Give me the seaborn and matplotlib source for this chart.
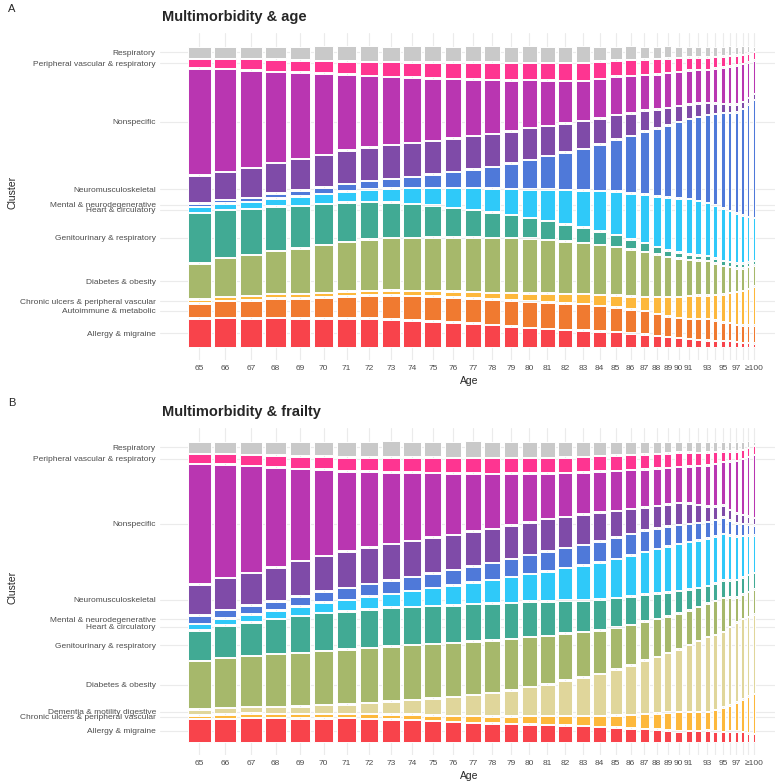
import numpy as np
import seaborn as sns
import matplotlib.pyplot as plt

W, H = 775, 784

ages = [str(a) for a in range(65, 100)] + ["≥100"]
hidden_ticks = ["92", "94", "96", "98", "99"]

# people at each age (thousands) -> column widths
n_age = [22.0, 21.6, 21.0, 20.4, 19.9, 19.2, 18.5, 18.0, 17.4, 16.9,
         16.4, 15.9, 15.5, 15.1, 14.6, 14.1, 14.0, 13.7, 13.2, 12.6,
         11.6, 10.2, 9.0, 7.8, 7.0, 6.4, 6.0, 5.4, 4.7, 4.0,
         3.3, 2.9, 2.5, 2.2, 1.9, 1.7]

# ---- panel A: share of each cluster (%) by age
age_allergy = [9.9, 10.1, 9.9, 10.1, 9.9, 9.9, 9.9, 9.9, 9.7, 9.3, 9.0, 8.6, 8.2, 7.6, 7.2, 6.7, 6.3, 6.0,
               5.8, 5.5, 5.2, 4.7, 4.3, 3.9, 3.5, 3.1, 2.8, 2.5, 2.2, 2.1, 2.0, 2.0, 1.7, 1.4, 1.3, 1.3]
age_autoimmune = [4.8, 5.4, 5.9, 6.3, 6.6, 6.9, 7.3, 7.5, 7.9, 8.0, 8.1, 8.2, 8.3, 8.4, 8.6, 8.7, 8.7, 8.7,
                  8.7, 8.3, 8.0, 7.9, 7.8, 7.2, 6.7, 6.5, 6.4, 6.7, 7.0, 6.6, 6.1, 5.8, 5.5, 5.5, 5.6, 5.7]
age_ulcers = [0.8, 1.0, 1.0, 1.1, 1.0, 1.1, 1.1, 1.2, 1.2, 1.3, 1.4, 1.5, 1.7, 1.8, 2.0, 2.3, 2.6, 2.9,
              3.1, 3.4, 3.7, 4.0, 4.4, 5.3, 6.2, 6.9, 7.6, 7.7, 7.8, 8.5, 9.2, 10.0, 10.9, 11.6, 12.4, 13.2]
age_diabetes = [12.1, 13.0, 13.8, 14.5, 15.4, 16.2, 16.8, 17.4, 17.9, 18.1, 18.3, 18.5, 18.6, 18.8, 18.7, 18.6, 18.2, 17.8,
                17.3, 16.9, 16.5, 15.9, 15.2, 14.4, 13.6, 12.8, 12.0, 11.7, 11.5, 10.5, 9.5, 8.6, 7.8, 7.4, 7.1, 6.9]
age_genito = [17.1, 16.3, 15.6, 15.0, 14.4, 13.9, 13.3, 12.6, 12.0, 11.4, 10.6, 9.8, 9.1, 8.4, 7.5, 6.7, 6.1, 5.5,
              4.9, 4.3, 3.7, 3.1, 2.6, 2.1, 1.7, 1.6, 1.5, 1.3, 1.2, 1.2, 1.2, 1.2, 1.2, 1.2, 1.1, 1.1]
age_heart = [1.6, 1.7, 1.9, 2.3, 2.7, 2.9, 3.3, 3.9, 4.4, 5.0, 5.7, 6.4, 7.1, 7.8, 8.6, 9.5, 10.5, 11.5,
             12.5, 13.6, 14.7, 15.6, 16.4, 17.2, 18.0, 18.5, 18.9, 18.5, 18.1, 18.0, 17.9, 17.4, 17.0, 16.2, 15.4, 14.5]
age_mental = [0.7, 0.7, 0.8, 1.2, 1.6, 1.8, 2.2, 2.5, 2.8, 3.4, 4.1, 5.0, 6.0, 7.1, 8.4, 9.8, 11.2, 12.6,
              14.1, 15.9, 17.7, 19.6, 21.5, 23.2, 24.8, 26.2, 27.5, 28.9, 30.2, 31.5, 32.8, 33.8, 34.9, 36.8, 38.8, 41.0]
age_neuro = [9.2, 9.4, 10.0, 10.2, 10.5, 10.8, 11.2, 11.1, 11.4, 11.4, 11.3, 11.2, 11.1, 11.0, 10.8, 10.6, 10.1, 9.7,
             9.2, 8.6, 8.0, 7.4, 6.8, 6.2, 5.6, 5.0, 4.5, 4.1, 3.7, 3.2, 2.7, 2.4, 2.1, 1.9, 1.7, 1.5]
age_nonspecific = [37.0, 35.5, 33.6, 31.4, 29.8, 28.0, 26.0, 24.6, 23.5, 22.4, 21.4, 20.4, 19.3, 18.3, 17.3, 16.3, 15.3, 14.4,
                   13.5, 13.2, 12.9, 12.5, 12.0, 11.8, 11.6, 11.5, 11.4, 11.2, 11.0, 11.6, 12.2, 12.8, 13.3, 12.8, 12.0, 11.3]
age_pvr = [2.8, 3.0, 3.5, 3.7, 3.7, 3.9, 4.1, 4.3, 4.6, 4.8, 5.0, 5.2, 5.4, 5.6, 5.6, 5.5, 5.7, 5.8,
           5.9, 5.6, 5.2, 5.1, 4.9, 4.8, 4.6, 4.3, 4.0, 3.9, 3.9, 3.6, 3.4, 3.1, 2.8, 2.7, 2.6, 2.5]
age_resp = [3.9, 3.9, 4.0, 4.2, 4.5, 4.6, 4.8, 5.0, 5.1, 5.1, 5.2, 5.2, 5.2, 5.2, 5.3, 5.3, 5.3, 5.3,
            5.3, 4.9, 4.4, 4.3, 4.1, 4.0, 3.8, 3.6, 3.4, 3.4, 3.4, 3.2, 3.0, 2.9, 2.8, 2.5, 2.0, 1.5]

# ---- panel B: share of each cluster (%) by age
frail_allergy = [8.0, 8.1, 8.4, 8.3, 8.2, 8.3, 8.3, 8.0, 7.9, 7.6, 7.3, 6.9, 6.7, 6.4, 6.2, 6.1, 5.9, 5.7,
                 5.5, 5.2, 5.0, 4.8, 4.6, 4.3, 4.0, 3.7, 3.8, 3.9, 4.0, 3.7, 3.5, 3.6, 3.7, 3.4, 3.0, 2.7]
frail_ulcers = [0.8, 1.0, 1.0, 1.0, 1.0, 1.0, 1.0, 1.2, 1.2, 1.4, 1.5, 1.7, 1.9, 2.0, 2.2, 2.4, 2.6, 2.9,
                3.1, 3.4, 3.8, 4.2, 4.6, 5.2, 5.7, 6.2, 6.2, 6.1, 6.0, 7.0, 8.0, 8.7, 9.5, 11.0, 12.3, 13.6]
frail_dementia = [1.5, 1.7, 1.7, 1.9, 2.2, 2.6, 2.7, 3.4, 4.0, 4.6, 5.3, 6.0, 6.8, 7.6, 8.6, 9.6, 10.6, 11.8,
                  12.9, 14.1, 15.5, 16.8, 18.2, 19.3, 20.3, 21.4, 22.8, 24.2, 25.6, 25.8, 26.0, 26.8, 27.6, 27.5, 27.3, 27.2]
frail_diabetes = [16.5, 16.9, 17.4, 18.0, 18.2, 18.4, 18.7, 18.7, 18.8, 18.7, 18.6, 18.4, 18.2, 18.0, 17.5, 17.0, 16.4, 15.9,
                  15.3, 14.8, 14.3, 13.8, 13.2, 12.7, 12.3, 12.0, 11.7, 11.4, 11.2, 11.3, 11.4, 9.8, 8.2, 8.2, 8.3, 8.3]
frail_genito = [10.0, 11.0, 11.2, 11.7, 12.3, 12.7, 12.8, 13.0, 13.0, 12.9, 12.8, 12.7, 12.5, 12.4, 12.1, 11.9, 11.6, 11.1,
                10.6, 10.2, 9.8, 9.4, 8.9, 8.4, 7.9, 7.4, 6.8, 6.2, 5.6, 5.6, 5.6, 5.5, 5.5, 5.4, 5.3, 5.2]
frail_heart = [1.8, 1.8, 2.2, 2.4, 2.8, 3.2, 3.5, 3.9, 4.3, 5.0, 5.7, 6.4, 7.1, 7.7, 8.5, 9.2, 10.0, 10.8,
               11.7, 12.5, 13.2, 13.9, 14.5, 15.0, 15.5, 15.9, 16.0, 16.1, 16.2, 16.0, 15.7, 15.2, 14.7, 14.0, 13.3, 12.6]
frail_mental = [2.5, 2.5, 2.7, 2.7, 3.0, 3.4, 3.7, 3.9, 4.2, 4.4, 4.6, 4.9, 5.1, 5.3, 5.7, 6.0, 6.4, 6.5,
                6.7, 6.8, 6.9, 7.0, 7.0, 6.8, 6.5, 6.2, 5.9, 5.5, 5.2, 5.2, 5.2, 4.6, 4.1, 3.7, 3.4, 3.1]
frail_neuro = [10.2, 10.6, 10.8, 11.3, 11.9, 11.8, 12.2, 12.2, 12.2, 12.1, 12.0, 11.8, 11.6, 11.5, 11.3, 11.0, 10.8, 10.4,
               10.0, 9.6, 8.9, 8.2, 7.4, 7.3, 7.2, 7.2, 6.5, 5.8, 5.0, 4.3, 3.7, 3.3, 2.9, 2.6, 2.3, 2.0]
frail_nonspecific = [41.7, 39.3, 36.9, 34.5, 31.7, 29.8, 27.5, 26.0, 24.6, 23.4, 22.2, 21.0, 19.8, 18.7, 17.6, 16.5, 15.4, 14.8,
                     14.3, 13.8, 13.5, 13.2, 12.9, 12.6, 12.3, 12.0, 12.5, 13.1, 13.7, 14.3, 14.8, 16.3, 17.8, 19.0, 20.3, 21.6]
frail_pvr = [2.9, 3.0, 3.3, 3.7, 3.9, 4.0, 4.4, 4.5, 4.6, 4.7, 4.8, 4.9, 5.0, 5.1, 5.0, 5.0, 5.0, 5.0,
             4.9, 4.9, 4.8, 4.8, 4.7, 4.6, 4.6, 4.5, 4.3, 4.1, 4.0, 3.6, 3.1, 3.0, 2.8, 2.7, 2.6, 2.5]
frail_resp = [4.0, 4.0, 4.3, 4.5, 4.8, 4.9, 5.1, 5.1, 5.2, 5.2, 5.2, 5.3, 5.3, 5.3, 5.3, 5.3, 5.3, 5.1,
              4.9, 4.7, 4.5, 4.3, 4.1, 3.9, 3.7, 3.5, 3.5, 3.5, 3.5, 3.3, 3.1, 3.1, 3.1, 2.5, 1.8, 1.2]

clusters_age = ["Allergy & migraine", "Autoimmune & metabolic", "Chronic ulcers & peripheral vascular",
                "Diabetes & obesity", "Genitourinary & respiratory", "Heart & circulatory",
                "Mental & neurodegenerative", "Neuromusculoskeletal", "Nonspecific",
                "Peripheral vascular & respiratory", "Respiratory"]
shares_age = [age_allergy, age_autoimmune, age_ulcers, age_diabetes, age_genito, age_heart,
              age_mental, age_neuro, age_nonspecific, age_pvr, age_resp]

clusters_frail = ["Allergy & migraine", "Chronic ulcers & peripheral vascular", "Dementia & motility digestive",
                  "Diabetes & obesity", "Genitourinary & respiratory", "Heart & circulatory",
                  "Mental & neurodegenerative", "Neuromusculoskeletal", "Nonspecific",
                  "Peripheral vascular & respiratory", "Respiratory"]
shares_frail = [frail_allergy, frail_ulcers, frail_dementia, frail_diabetes, frail_genito, frail_heart,
                frail_mental, frail_neuro, frail_nonspecific, frail_pvr, frail_resp]

colors = {
    "Allergy & migraine": "#F8434B",
    "Autoimmune & metabolic": "#F07A30",
    "Chronic ulcers & peripheral vascular": "#FDB83C",
    "Dementia & motility digestive": "#E0D69B",
    "Diabetes & obesity": "#A6B86B",
    "Genitourinary & respiratory": "#41AA94",
    "Heart & circulatory": "#2FC9F9",
    "Mental & neurodegenerative": "#4F79D9",
    "Neuromusculoskeletal": "#7F4BA8",
    "Nonspecific": "#B936B1",
    "Peripheral vascular & respiratory": "#FE3591",
    "Respiratory": "#C9C9C9",
}

GAP_X = 0.0067
GAP_Y = 0.005
TXT = "#4D4D4D"


def mosaic(ax, names, shares):
    w = np.array(n_age, float)
    wf = w / w.sum() * (1 - GAP_X * (len(w) - 1))
    left = np.r_[0, np.cumsum(wf + GAP_X)[:-1]]
    p = np.array(shares, float)
    p = p / p.sum(axis=0) * (1 - GAP_Y * (len(names) - 1))
    base = np.vstack([np.zeros(len(w)), np.cumsum(p + GAP_Y, axis=0)[:-1]])
    for name, hgt, b in zip(names, p, base):
        ax.bar(left, hgt, width=wf, bottom=b, align="edge", color=colors[name],
               edgecolor="white", linewidth=0.7, zorder=2)
    # cluster labels sit on the first column, as ggmosaic does
    ax.set_yticks(base[:, 0] + p[:, 0] / 2, names)
    ax.set_xticks(left + wf / 2, ["" if a in hidden_ticks else a for a in ages])
    ax.grid(True, color="#EBEBEB", linewidth=0.8, zorder=0)
    ax.set_axisbelow(True)
    ax.tick_params(length=0, labelsize=6, labelcolor=TXT)
    ax.tick_params(axis="y", pad=2.9)
    ax.tick_params(axis="x", pad=3.5)
    for s in ax.spines.values():
        s.set_visible(False)


def px_axes(fig, left, right, top, bottom, x0, x1, y0, y1):
    # axes placed in pixel box; data 0..1 lands on pixels x0..x1 / y0..y1
    ax = fig.add_axes([left / W, 1 - bottom / H, (right - left) / W, (bottom - top) / H])
    sx = x1 - x0
    sy = y0 - y1
    ax.set_xlim((left - x0) / sx, (right - x0) / sx)
    ax.set_ylim((y0 - bottom) / sy, (y0 - top) / sy)
    return ax


sns.set_theme(style="white")
plt.rcParams["font.family"] = ["Liberation Sans", "DejaVu Sans"]

fig = plt.figure(figsize=(W / 100, H / 100), dpi=100)

panels = [
    ("A", "Multimorbidity & age", clusters_age, shares_age, 0),
    ("B", "Multimorbidity & frailty", clusters_frail, shares_frail, 395),
]
for tag, title, names, shares, dy in panels:
    ax = px_axes(fig, 160, 775, 32.7 + dy, 359.7 + dy, 188.3, 754.9, 347.2 + dy, 46.5 + dy)
    mosaic(ax, names, shares)
    fig.text(8 / W, 1 - (8.5 + dy) / H, tag, fontsize=8, ha="left", va="center")
    fig.text(161.5 / W, 1 - (16.8 + dy) / H, title, fontsize=10.5, fontweight="bold",
             ha="left", va="center")
    fig.text(12 / W, 1 - (192 + dy) / H, "Cluster", fontsize=7.5, rotation=90,
             ha="center", va="center")
    fig.text(469 / W, 1 - (381 + dy) / H, "Age", fontsize=7.5, ha="center", va="center")

fig.savefig("out.png", dpi=100)
